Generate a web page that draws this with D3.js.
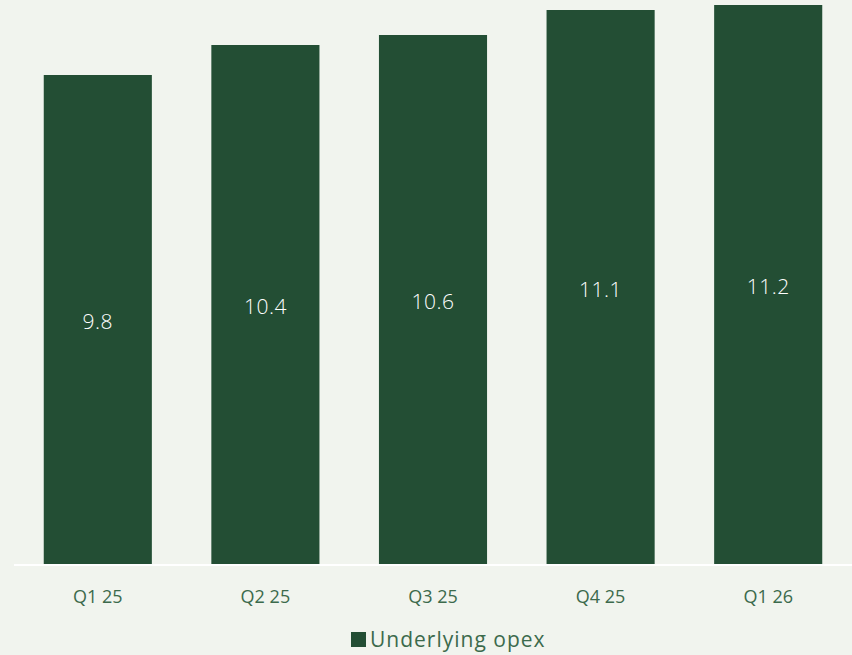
<!DOCTYPE html>
<html>
<head>
<meta charset="utf-8">
<script src="https://cdn.jsdelivr.net/npm/d3@7"></script>
<style>
  body { margin: 0; background: #f1f4ee; }
  svg { display: block; font-family: "Open Sans", Lato, sans-serif; }
</style>
</head>
<body>
<script>
var quarters = ["Q1 25", "Q2 25", "Q3 25", "Q4 25", "Q1 26"];
var opex = [9.8, 10.4, 10.6, 11.1, 11.2];
var seriesName = "Underlying opex";

const w = 852;
const h = 655;
const base = 565;
const barColor = "#234e34";
const textColor = "#3c6a4c";

const svg = d3.select("body")
    .append("svg")
    .attr("width", w)
    .attr("height", h);

svg.append("rect")
    .attr("width", w)
    .attr("height", h)
    .attr("fill", "#f1f4ee");

const xScale = d3.scaleBand()
    .domain(quarters)
    .range([14, 852])
    .paddingInner(0.355)
    .paddingOuter(0.1775);

const yScale = d3.scaleLinear()
    .domain([0, 11.3])
    .range([base, 0]);

// bars
svg.selectAll("rect.bar")
    .data(opex)
    .enter()
    .append("rect")
    .attr("class", "bar")
    .attr("x", (d, i) => xScale(quarters[i]))
    .attr("y", d => yScale(d))
    .attr("width", xScale.bandwidth())
    .attr("height", d => base - yScale(d))
    .attr("fill", barColor);

// value labels
svg.selectAll("text.val")
    .data(opex)
    .enter()
    .append("text")
    .attr("class", "val")
    .attr("x", (d, i) => xScale(quarters[i]) + xScale.bandwidth() / 2)
    .attr("y", d => (yScale(d) + base) / 2 + 2)
    .attr("dy", "0.35em")
    .attr("text-anchor", "middle")
    .attr("fill", "#ffffff")
    .style("font-size", "21px")
    .style("font-weight", 300)
    .style("letter-spacing", "0.5px")
    .text(d => d.toFixed(1));

// x axis
const xAxis = d3.axisBottom(xScale).tickSize(0).tickPadding(0);
const gx = svg.append("g")
    .attr("transform", "translate(0," + base + ")")
    .call(xAxis);
gx.select(".domain")
    .attr("stroke", "#ffffff")
    .attr("stroke-width", 2)
    .attr("d", "M14,0H852");
gx.selectAll(".tick text")
    .attr("y", 38)
    .attr("dy", "0")
    .attr("fill", textColor)
    .style("font-size", "18px")
    .style("font-family", "'Open Sans', Lato, sans-serif");

// legend
const legend = svg.append("g").attr("transform", "translate(351,632)");
legend.append("rect")
    .attr("width", 15)
    .attr("height", 15)
    .attr("fill", barColor);
legend.append("text")
    .attr("x", 19)
    .attr("y", 8)
    .attr("dy", "0.35em")
    .attr("fill", textColor)
    .style("font-size", "21px")
    .style("letter-spacing", "1px")
    .text(seriesName);
</script>
</body>
</html>
